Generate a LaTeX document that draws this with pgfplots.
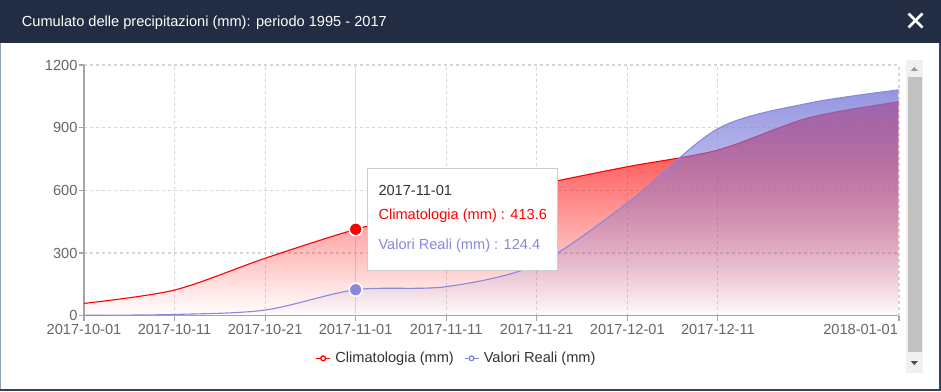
\documentclass[border=0pt]{standalone}
\usepackage{pgfplots}
\pgfplotsset{compat=1.18}
\usepackage{fontspec}
\setmainfont{Liberation Sans}
\usetikzlibrary{fadings}
\definecolor{hdr}{HTML}{222C42}
\definecolor{ticklab}{HTML}{666666}
\definecolor{axline}{HTML}{A6A6A6}
\definecolor{gridc}{HTML}{D6D6D6}
\definecolor{crossc}{HTML}{DDDDDD}
\definecolor{blu}{HTML}{8888DD}
\definecolor{bluf}{HTML}{7C7CDA}
\definecolor{legtext}{HTML}{333333}
\definecolor{tipb}{HTML}{CCCCCC}
\definecolor{track}{HTML}{F0F0F0}
\definecolor{thumb}{HTML}{C1C1C1}
\definecolor{frameL}{HTML}{8FA3B3}
\definecolor{frameR}{HTML}{34425A}
\tikzfading[name=redfade, top color=transparent!15, bottom color=transparent!100]
\tikzfading[name=bluefade, top color=transparent!20, bottom color=transparent!100]
\newcommand{\fs}{\fontsize{14.6}{17}\selectfont}

\pgfplotstableread{
x y
0 59
1 123
2 275
3 413.6
4 525
5 625
6 713
7 793
8 947
9 1024
}\clim
\pgfplotstableread{
x y
0 2
1 6
2 27
3 124.4
4 139
5 245
6 539
7 895
8 1017
9 1081
}\reali

\begin{document}
\begin{tikzpicture}[x=1pt,y=1pt]
\useasboundingbox (0,0) rectangle (941,391);
\fill[white] (0,0) rectangle (941,391);
\fill[hdr] (0,348.3) rectangle (941,391);
\node[anchor=west, text=white, font=\fs, inner sep=0] at (21.7,368.7) {Cumulato delle precipitazioni (mm): periodo 1995 - 2017};
\draw[white, line width=2.6pt] (908.5,363.5) -- (922.5,377.5);
\draw[white, line width=2.6pt] (908.5,377.5) -- (922.5,363.5);

\begin{axis}[
  at={(84pt,75.3pt)}, anchor=south west, scale only axis,
  width=815pt, height=250.7pt,
  xmin=0, xmax=9, ymin=0, ymax=1200,
  xtick={0,1,2,3,4,5,6,7},
  xticklabels={2017-10-01,2017-10-11,2017-10-21,2017-11-01,2017-11-11,2017-11-21,2017-12-01,2017-12-11},
  extra x ticks={9},
  extra x tick labels={2018-01-01},
  extra x tick style={xticklabel style={anchor=north east, xshift=2.5pt}},
  ytick={0,300,600,900,1200},
  axis x line*=bottom, axis y line*=left,
  axis line style={draw=axline, line width=1.5pt, -},
  grid=major,
  major grid style={draw=gridc, dash pattern=on 3pt off 3pt, line width=1.2pt},
  tick align=outside, major tick length=5pt,
  tick style={draw=axline, line width=1.2pt},
  ticklabel style={font=\fs, text=ticklab},
  /pgf/number format/assume math mode=true,
  /pgf/number format/1000 sep={},
  yticklabel style={xshift=2pt},
  legend style={at={(0.457,-0.17)}, anchor=center, draw=none, fill=none,
    legend columns=2, font=\fs, nodes={text=legtext},
    /tikz/every odd column/.append style={column sep=2.5pt},
    /tikz/every even column/.append style={column sep=8pt}},
  legend image code/.code={\draw[#1, line width=1.5pt] (0pt,0pt)--(14pt,0pt);
     \draw[#1, fill=white, line width=1.3pt] (7pt,0pt) circle (2.4pt);},
]
\addplot[forget plot, draw=crossc, line width=1.5pt] coordinates {(3,0) (3,1200)};
\addplot[forget plot, smooth, draw=none, fill=red, path fading=redfade] table[x=x,y=y] {\clim} \closedcycle;
\addplot[forget plot, smooth, draw=red, line width=1.1pt] table[x=x,y=y] {\clim};
\addplot[forget plot, smooth, draw=none, fill=bluf, path fading=bluefade] table[x=x,y=y] {\reali} \closedcycle;
\addplot[forget plot, smooth, draw=blu, line width=1.1pt] table[x=x,y=y] {\reali};
\addplot[forget plot, only marks, mark=*, mark size=6.5pt, mark options={fill=red, draw=white, line width=1.5pt}] coordinates {(3,413.6)};
\addplot[forget plot, only marks, mark=*, mark size=6.5pt, mark options={fill=blu, draw=white, line width=1.5pt}] coordinates {(3,124.4)};
\addlegendimage{red}
\addlegendentry{Climatologia (mm)}
\addlegendimage{blu}
\addlegendentry{Valori Reali (mm)}
\end{axis}

% tooltip
\draw[draw=tipb, fill=white, line width=1pt] (367.3,121) rectangle (557.3,222.7);
\node[anchor=west, inner sep=0, font=\fs, text=legtext] at (378.3,200.3) {2017-11-01};
\node[anchor=west, inner sep=0, font=\fs, text=red] at (378.3,175.3) {Climatologia (mm) : 413.6};
\node[anchor=west, inner sep=0, font=\fs, text=blu] at (378.3,145.3) {Valori Reali (mm) : 124.4};

% scrollbar
\fill[track] (905.7,18.3) rectangle (923,331);
\fill[thumb] (907.7,39.3) rectangle (921.7,314);
\fill[black!40] (910.6,320) -- (918,320) -- (914.3,324) -- cycle;
\fill[black!70] (910.6,30) -- (918,30) -- (914.3,26) -- cycle;

% frame
\fill[frameL] (0,0) rectangle (1,348.3);
\fill[frameR] (939.3,0) rectangle (941,348.3);
\fill[frameR] (0,0) rectangle (941,2.5);
\end{tikzpicture}
\end{document}
